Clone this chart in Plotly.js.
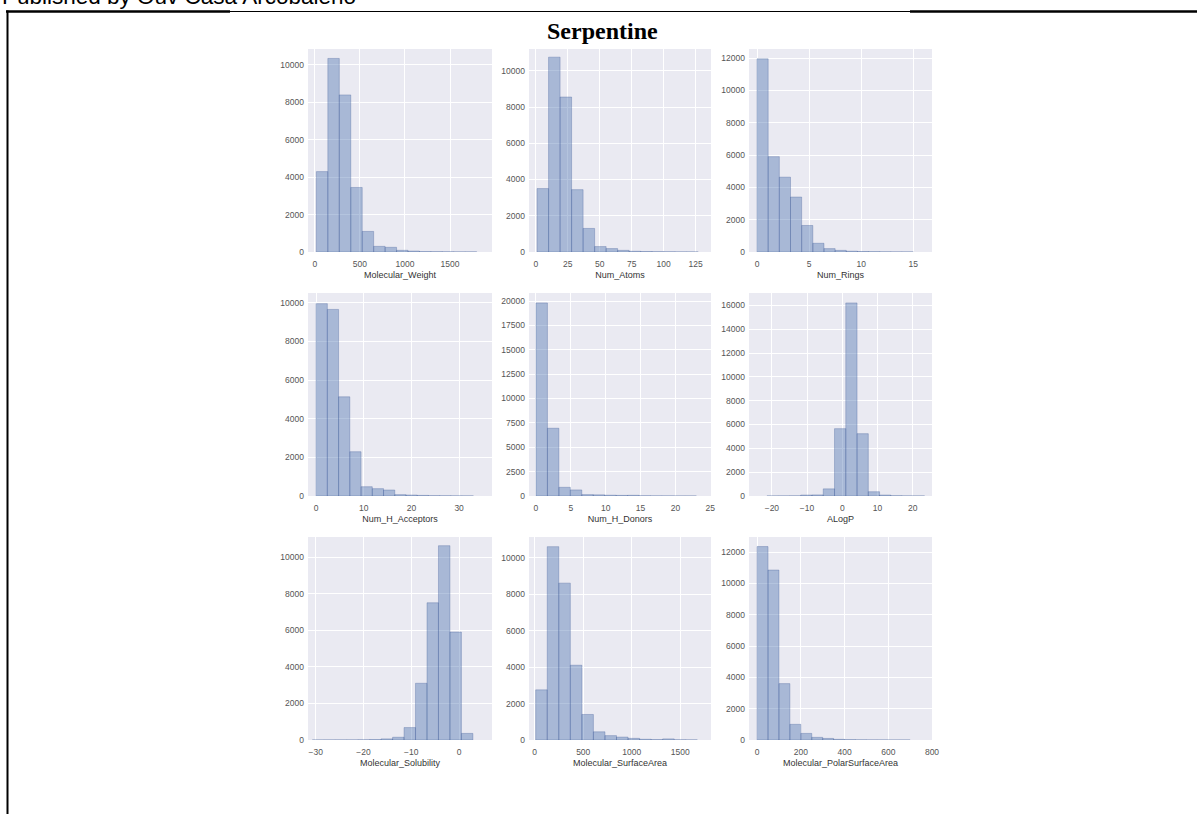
<!DOCTYPE html>
<html>
<head>
<meta charset="utf-8">
<script src="https://cdn.plot.ly/plotly-3.0.1.min.js"></script>
<style>html,body{margin:0;padding:0;background:#fff;}#chart{width:1197px;height:814px;}</style>
</head>
<body>
<div id="chart"></div>
<script>
// ---- data (bin edges and counts) ----
const panelNames = ["Molecular_Weight","Num_Atoms","Num_Rings","Num_H_Acceptors","Num_H_Donors","ALogP","Molecular_Solubility","Molecular_SurfaceArea","Molecular_PolarSurfaceArea"];

const mwEdges = [18,145,272,399,526,653,780,907,1034,1161,1288,1415,1542,1669,1796];
const mwCounts = [4300,10350,8400,3450,1100,300,250,90,50,20,15,10,5,5];

const naEdges = [1,10,19,28,37,46,55,64,73,82,91,100,109,118,127];
const naCounts = [3500,10750,8550,3440,1300,300,190,90,40,25,15,10,5,3];

const nrEdges = [0,1.071,2.143,3.214,4.286,5.357,6.429,7.5,8.571,9.643,10.714,11.786,12.857,13.929,15];
const nrCounts = [11950,5900,4630,3400,1640,540,210,100,50,30,20,10,5,3];

const nhaEdges = [0,2.357,4.714,7.071,9.429,11.786,14.143,16.5,18.857,21.214,23.571,25.929,28.286,30.643,33];
const nhaCounts = [9950,9650,5130,2290,480,380,310,70,50,30,15,10,5,3];

const nhdEdges = [0,1.643,3.286,4.929,6.571,8.214,9.857,11.5,13.143,14.786,16.429,18.071,19.714,21.357,23];
const nhdCounts = [19800,6950,890,620,140,120,80,60,70,20,10,5,3,2];

const alogpEdges = [-21.4,-18.2,-15,-11.8,-8.6,-5.4,-2.2,1,4.2,7.4,10.6,13.8,17,20.2,23.4];
const alogpCounts = [3,5,10,80,90,600,5650,16200,5230,360,80,20,5,3];

const msEdges = [-30.7,-28.3,-25.9,-23.5,-21.1,-18.7,-16.3,-13.9,-11.5,-9.1,-6.7,-4.3,-1.9,0.5,2.9];
const msCounts = [2,3,5,5,10,20,60,150,680,3100,7500,10620,5900,360];

const msaEdges = [10,129,248,367,486,605,724,843,962,1081,1200,1319,1438,1557,1676];
const msaCounts = [2750,10600,8600,4100,1400,450,240,160,90,40,20,60,10,5];

const mpsaEdges = [0,50,100,150,200,250,300,350,400,450,500,550,600,650,700];
const mpsaCounts = [12350,10850,3600,1000,420,170,100,40,20,10,5,3,2,2];

const xRanges = [[-75,1965],[-5.3,137],[-0.77,16.8],[-1.7,36.9],[-1,25.1],[-26.5,25.5],[-31.6,6.9],[-59,1817],[-37,800]];
const yRanges = [[0,10855],[0,11200],[0,12560],[0,10500],[0,20820],[0,17035],[0,11095],[0,11130],[0,12960]];
const xDticks = [500,25,5,10,5,10,10,500,200];
const yDticks = [2000,2000,2000,2000,2500,2000,2000,2000,2000];

const edgesList = [mwEdges,naEdges,nrEdges,nhaEdges,nhdEdges,alogpEdges,msEdges,msaEdges,mpsaEdges];
const countsList = [mwCounts,naCounts,nrCounts,nhaCounts,nhdCounts,alogpCounts,msCounts,msaCounts,mpsaCounts];

// ---- layout geometry (pixels in a 1197x814 figure) ----
const W = 1197, H = 814;
const colPx = [[308,492],[529,711],[749,932]];
const rowPx = [[49,252],[293,496],[537,740]];

const traces = [];
const layout = {
  width: W, height: H,
  margin: {l:0, r:0, t:0, b:0},
  paper_bgcolor: '#ffffff',
  plot_bgcolor: '#EAEAF2',
  showlegend: false,
  bargap: 0,
  font: {family: 'Liberation Sans, Arial, sans-serif', size: 8, color: '#444'},
  annotations: [],
  shapes: []
};

for (let i = 0; i < 9; i++) {
  const edges = edgesList[i], counts = countsList[i];
  const xs = [], ws = [];
  for (let k = 0; k < counts.length; k++) {
    xs.push((edges[k] + edges[k+1]) / 2);
    ws.push(edges[k+1] - edges[k]);
  }
  const n = i + 1;
  const xa = n === 1 ? 'x' : 'x' + n;
  const ya = n === 1 ? 'y' : 'y' + n;
  traces.push({
    type: 'bar', x: xs, y: counts, width: ws,
    xaxis: xa, yaxis: ya,
    marker: {color: 'rgba(76,114,176,0.42)', line: {color: 'rgba(60,90,150,0.45)', width: 0.7}},
    hoverinfo: 'x+y'
  });
  const c = i % 3, r = Math.floor(i / 3);
  const xk = n === 1 ? 'xaxis' : 'xaxis' + n;
  const yk = n === 1 ? 'yaxis' : 'yaxis' + n;
  layout[xk] = {
    domain: [colPx[c][0] / W, colPx[c][1] / W],
    range: xRanges[i], dtick: xDticks[i], tick0: 0, tickformat: 'd',
    anchor: ya, showgrid: true, gridcolor: '#ffffff', gridwidth: 1,
    zeroline: false, showline: false, ticks: '',
    ticklabelstandoff: 5,
    tickfont: {size: 8.5, color: '#555'},
    title: {text: panelNames[i], font: {size: 9, color: '#333'}, standoff: 4}
  };
  layout[yk] = {
    domain: [1 - rowPx[r][1] / H, 1 - rowPx[r][0] / H],
    range: yRanges[i], dtick: yDticks[i], tick0: 0, tickformat: 'd',
    anchor: xa, showgrid: true, gridcolor: '#ffffff', gridwidth: 1,
    zeroline: false, showline: false, ticks: '',
    ticklabelstandoff: 3,
    tickfont: {size: 8.5, color: '#555'}
  };
}

// main title
layout.annotations.push({
  text: '<b>Serpentine</b>', xref: 'paper', yref: 'paper',
  x: 602 / W, y: 1 - 31 / H, xanchor: 'center', yanchor: 'middle',
  showarrow: false, font: {family: 'Liberation Serif, Times New Roman, serif', size: 24, color: '#000'}
});
// cut-off header text
layout.annotations.push({
  text: 'Published by Ouv Casa Arcobaleno', xref: 'paper', yref: 'paper',
  x: 0, y: 1 + 3 / H, xanchor: 'left', yanchor: 'middle',
  showarrow: false, font: {family: 'Liberation Sans, Arial, sans-serif', size: 22.5, color: '#000'}
});

// page border
const py = v => 1 - v / H, px = v => v / W;
layout.shapes.push(
  {type:'line', xref:'paper', yref:'paper', x0:px(6), x1:px(230), y0:py(11.5), y1:py(11.5), line:{color:'#000', width:2.5}, layer:'above'},
  {type:'line', xref:'paper', yref:'paper', x0:px(230), x1:px(910), y0:py(11.5), y1:py(11.5), line:{color:'#000', width:1.2}, layer:'above'},
  {type:'line', xref:'paper', yref:'paper', x0:px(910), x1:px(1197), y0:py(11.5), y1:py(11.5), line:{color:'#000', width:2.5}, layer:'above'},
  {type:'line', xref:'paper', yref:'paper', x0:px(7.5), x1:px(7.5), y0:py(10.5), y1:py(814), line:{color:'#000', width:2}, layer:'above'}
);

Plotly.newPlot('chart', traces, layout, {displayModeBar: false, staticPlot: true});
</script>
</body>
</html>
